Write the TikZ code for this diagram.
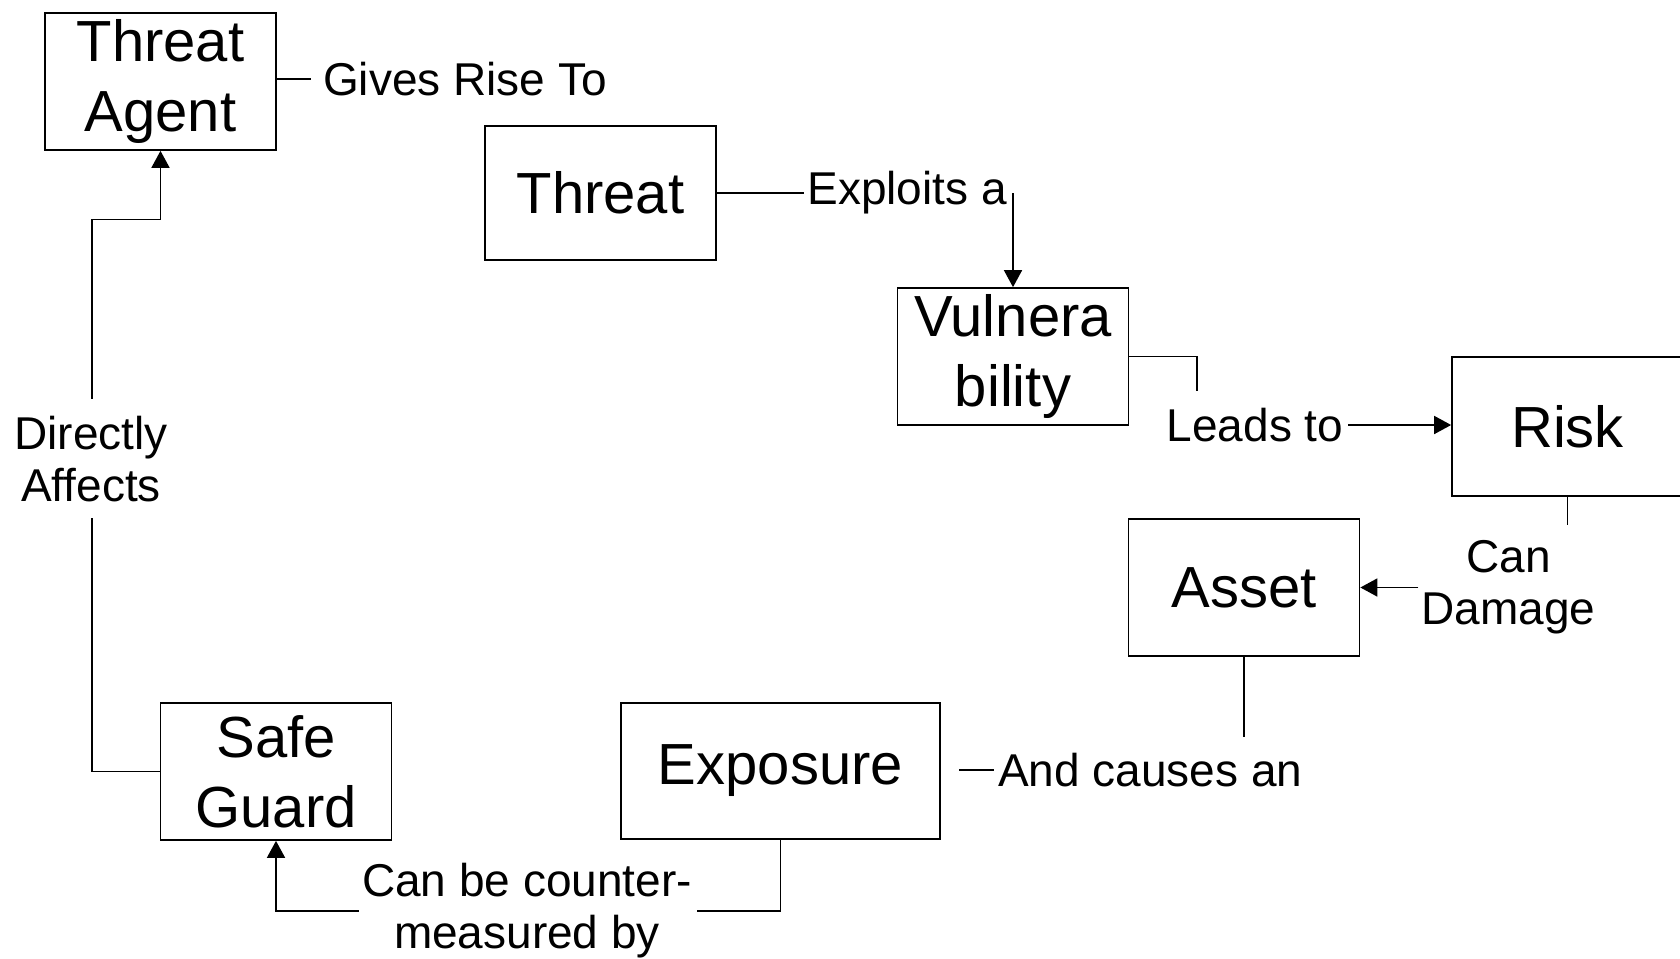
\documentclass[tikz,border=0pt]{standalone}
\usepackage{fontspec}
\setmainfont{Liberation Sans}
\usetikzlibrary{arrows.meta}
\begin{document}
\begin{tikzpicture}[x=1pt,y=-1pt,
  box/.style={draw, line width=1.7pt, minimum width=231pt, minimum height=137pt,
    inner sep=0pt, align=center, font=\fontsize{58}{70}\selectfont},
  lbl/.style={inner sep=0pt, align=center, font=\fontsize{46}{52}\selectfont},
  link/.style={line width=1.7pt},
  arr/.style={link, -{Triangle[length=17pt,width=18pt]}}]
\useasboundingbox (0,0) rectangle (1680,958);

% boxes
\node[box] (agent) at (160.5,81.5) {Threat\\Agent};
\node[box, minimum height=134pt] (threat) at (600.5,193) {Threat};
\node[box] (vuln) at (1013,356.5) {Vulnera\\bility};
\node[box, minimum height=139pt] (risk) at (1567.5,426.5) {Risk};
\node[box] (asset) at (1244,587.5) {Asset};
\node[box, minimum width=319pt, minimum height=136pt] (expo) at (780.5,771) {Exposure};
\node[box] (guard) at (276,771.5) {Safe\\Guard};

% connector labels
\node[lbl, anchor=west] (gives) at (323,79) {Gives Rise To};
\node[lbl, anchor=east] (exploits) at (1007,193) {Exploits a};
\node[lbl] (leads) at (1255,425) {Leads to};
\node[lbl] (damage) at (1508.5,587) {Can\\Damage};
\node[lbl, anchor=west] (causes) at (998,770) {And causes an};
\node[lbl] (counter) at (527,911) {Can be counter-\\measured by};
\node[lbl] (affects) at (91,459) {Directly\\Affects};

% bend points
\coordinate (vr) at (1197,391);
\coordinate (rd) at (1567.5,525);
\coordinate (ae) at (1244,737);
\coordinate (ga1) at (92,517.5);
\coordinate (ga2) at (92,398.5);
\coordinate (ga3) at (92,219.6);

% connectors
\draw[link] (agent.east |- gives.west) -- ([xshift=-12pt]gives.west);

\draw[link] (threat.east |- exploits.west) -- ([xshift=-3pt]exploits.west);
\draw[arr] (vuln.north |- exploits.east) -- (vuln.north);

\draw[link] (vuln.east) -| (vr);
\draw[arr] ([xshift=5pt]leads.east) -- (risk.west |- leads.east);

\draw[link] (risk.south) -- (rd);
\draw[arr] ([xshift=-3pt]damage.west |- asset.east) -- (asset.east);

\draw[link] (asset.south) -- (ae);
\draw[link] ([xshift=-39pt]causes.west) -- ([xshift=-4pt]causes.west);

\draw[link] (expo.south) |- ([xshift=5pt]counter.east);
\draw[arr] ([xshift=-3pt]counter.west) -| (guard.south);

\draw[link] (guard.west) -| (ga1);
\draw[arr] (ga2) -- (ga3) -| (agent.south);
\end{tikzpicture}
\end{document}
